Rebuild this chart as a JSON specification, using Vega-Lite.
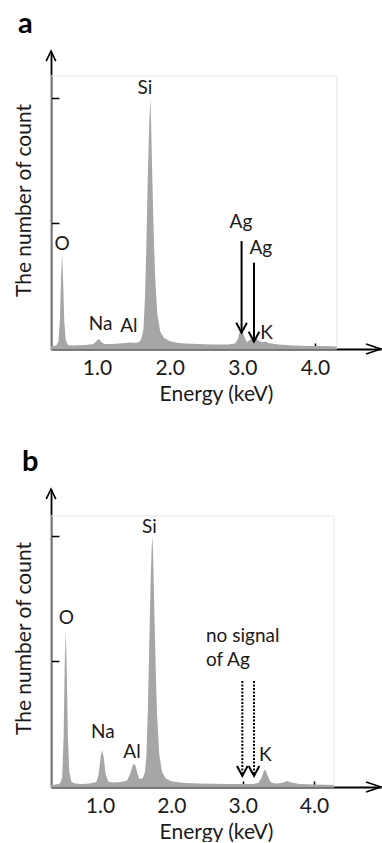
{
  "$schema": "https://vega.github.io/schema/vega-lite/v6.json",
  "padding": {"left": 13, "top": 9, "right": 0, "bottom": 0},
  "background": "white",
  "bounds": "flush",
  "spacing": 140,
  "config": {
    "view": {"stroke": null},
    "font": "Lato",
    "axis": {"domainColor": "#000", "domainWidth": 1.8, "tickColor": "#000", "tickWidth": 1.5, "labelFont": "Lato", "titleFont": "Lato", "labelColor": "#1a1a1a", "titleColor": "#1a1a1a", "grid": false, "titleFontWeight": "normal", "labelFontSize": 21, "titleFontSize": 21},
    "title": {"font": "Lato", "fontSize": 29, "fontWeight": "bold", "anchor": "start", "frame": "group", "color": "#000", "baseline": "alphabetic"}
  },
  "datasets": {
    "specA": [
      {"E":0.367,"c":10},{"E":0.40,"c":12},{"E":0.44,"c":14},{"E":0.47,"c":30},{"E":0.49,"c":120},{"E":0.505,"c":280},{"E":0.52,"c":382},{"E":0.535,"c":260},{"E":0.55,"c":110},{"E":0.57,"c":35},{"E":0.60,"c":16},{"E":0.65,"c":14},{"E":0.75,"c":15},{"E":0.85,"c":16},{"E":0.95,"c":20},{"E":1.00,"c":34},{"E":1.03,"c":40},{"E":1.06,"c":28},{"E":1.10,"c":20},{"E":1.20,"c":20},{"E":1.30,"c":22},{"E":1.40,"c":24},{"E":1.46,"c":26},{"E":1.52,"c":24},{"E":1.58,"c":28},{"E":1.61,"c":40},{"E":1.64,"c":80},{"E":1.66,"c":200},{"E":1.68,"c":420},{"E":1.70,"c":700},{"E":1.72,"c":900},{"E":1.735,"c":1000},{"E":1.745,"c":900},{"E":1.76,"c":700},{"E":1.78,"c":470},{"E":1.80,"c":290},{"E":1.83,"c":140},{"E":1.87,"c":70},{"E":1.92,"c":45},{"E":2.00,"c":32},{"E":2.10,"c":25},{"E":2.20,"c":22},{"E":2.40,"c":20},{"E":2.60,"c":18},{"E":2.80,"c":18},{"E":2.90,"c":22},{"E":2.94,"c":40},{"E":2.97,"c":78},{"E":2.99,"c":84},{"E":3.02,"c":55},{"E":3.06,"c":28},{"E":3.10,"c":35},{"E":3.14,"c":48},{"E":3.18,"c":45},{"E":3.22,"c":34},{"E":3.28,"c":26},{"E":3.32,"c":30},{"E":3.36,"c":24},{"E":3.50,"c":18},{"E":3.70,"c":14},{"E":3.90,"c":12},{"E":4.10,"c":12},{"E":4.30,"c":10}
    ],
    "specB": [
      {"E":0.313,"c":8},{"E":0.38,"c":10},{"E":0.44,"c":14},{"E":0.47,"c":40},{"E":0.49,"c":200},{"E":0.505,"c":480},{"E":0.52,"c":625},{"E":0.535,"c":450},{"E":0.55,"c":200},{"E":0.57,"c":60},{"E":0.60,"c":20},{"E":0.65,"c":14},{"E":0.75,"c":12},{"E":0.85,"c":14},{"E":0.95,"c":20},{"E":0.98,"c":50},{"E":1.01,"c":120},{"E":1.03,"c":147},{"E":1.05,"c":120},{"E":1.08,"c":50},{"E":1.12,"c":20},{"E":1.20,"c":18},{"E":1.30,"c":20},{"E":1.38,"c":26},{"E":1.42,"c":50},{"E":1.46,"c":88},{"E":1.49,"c":92},{"E":1.52,"c":60},{"E":1.55,"c":32},{"E":1.60,"c":35},{"E":1.63,"c":60},{"E":1.65,"c":120},{"E":1.67,"c":300},{"E":1.69,"c":560},{"E":1.71,"c":820},{"E":1.725,"c":960},{"E":1.735,"c":1000},{"E":1.745,"c":920},{"E":1.76,"c":720},{"E":1.78,"c":480},{"E":1.80,"c":290},{"E":1.83,"c":130},{"E":1.87,"c":60},{"E":1.92,"c":35},{"E":2.00,"c":22},{"E":2.20,"c":16},{"E":2.40,"c":14},{"E":2.60,"c":13},{"E":2.80,"c":12},{"E":3.00,"c":12},{"E":3.15,"c":12},{"E":3.22,"c":16},{"E":3.26,"c":35},{"E":3.30,"c":66},{"E":3.32,"c":68},{"E":3.35,"c":45},{"E":3.39,"c":20},{"E":3.45,"c":14},{"E":3.55,"c":16},{"E":3.62,"c":24},{"E":3.68,"c":18},{"E":3.80,"c":12},{"E":4.00,"c":10},{"E":4.28,"c":8}
    ],
    "frameA": [{"x1":0.367,"x2":4.30,"y1":0,"y2":1088}],
    "frameB": [{"x1":0.313,"x2":4.28,"y1":0,"y2":1080}],
    "labA": [
      {"E":1.66,"c":1016,"t":"Si"},{"E":0.519,"c":394,"t":"O"},{"E":1.049,"c":76,"t":"Na"},{"E":1.438,"c":68,"t":"Al"},{"E":2.982,"c":482,"t":"Ag"},{"E":3.254,"c":380,"t":"Ag"},{"E":3.335,"c":41,"t":"K"}
    ],
    "labB": [
      {"E":1.691,"c":1012,"t":"Si"},{"E":0.527,"c":649,"t":"O"},{"E":1.039,"c":195,"t":"Na"},{"E":1.448,"c":116,"t":"Al"},{"E":3.317,"c":104,"t":"K"}
    ],
    "noteB": [
      {"E":2.486,"c":578,"t":"no signal"},{"E":2.486,"c":482,"t":"of Ag"}
    ],
    "arrA": [{"E":2.99,"top":430,"tip":65},{"E":3.161,"top":344,"tip":29}],
    "arrB": [{"E":2.995,"top":422,"tip":44},{"E":3.159,"top":422,"tip":44}],
    "axA": [{"E":4.909,"c":0,"s":"x"},{"E":0.367,"c":1187,"s":"y"}],
    "axB": [{"E":4.939,"c":0,"s":"x"},{"E":0.313,"c":1187,"s":"y"}]
  },
  "vconcat": [
    {
      "width": 330, "height": 298,
      "title": {"text": "a", "dx": -33, "offset": 9},
      "layer": [
        {"data": {"name": "frameA"}, "mark": {"type": "rect", "fillOpacity": 0, "stroke": "#e8e8e8", "strokeWidth": 1},
         "encoding": {"x": {"field": "x1", "type": "quantitative", "scale": {"domain": [0.367, 4.909], "nice": false, "zero": false},
                            "axis": {"title": "Energy (keV)", "values": [1, 2, 3, 4], "format": ".1f", "tickSize": -6, "labelPadding": 14, "titlePadding": 5}},
                      "x2": {"field": "x2"},
                      "y": {"field": "y1", "type": "quantitative", "scale": {"domain": [0, 1187], "nice": false},
                            "axis": {"title": "The number of count", "values": [500, 1000], "labels": false, "tickSize": -8, "titlePadding": 16}},
                      "y2": {"field": "y2"}}},
        {"data": {"name": "specA"}, "mark": {"type": "area", "color": "#a6a6a6"},
         "encoding": {"x": {"field": "E", "type": "quantitative"}, "y": {"field": "c", "type": "quantitative"}}},
        {"data": {"name": "labA"}, "mark": {"type": "text", "fontSize": 19, "font": "Lato", "color": "#1a1a1a", "baseline": "alphabetic", "align": "center"},
         "encoding": {"x": {"field": "E", "type": "quantitative"}, "y": {"field": "c", "type": "quantitative"}, "text": {"field": "t"}}},
        {"data": {"name": "arrA"}, "mark": {"type": "rule", "color": "#000", "strokeWidth": 2},
         "encoding": {"x": {"field": "E", "type": "quantitative"}, "y": {"field": "top", "type": "quantitative"}, "y2": {"field": "tip"}}},
        {"data": {"name": "arrA"}, "mark": {"type": "point", "shape": "M-0.53,-1L0,0L0.53,-1", "size": 400, "filled": false, "color": "#000", "strokeWidth": 2, "opacity": 1},
         "encoding": {"x": {"field": "E", "type": "quantitative"}, "y": {"field": "tip", "type": "quantitative"}}},
        {"data": {"name": "axA"}, "mark": {"type": "point", "size": 900, "filled": false, "color": "#000", "strokeWidth": 1.6, "opacity": 1},
         "encoding": {"x": {"field": "E", "type": "quantitative"}, "y": {"field": "c", "type": "quantitative"},
                      "shape": {"field": "s", "type": "nominal", "scale": {"domain": ["x", "y"], "range": ["M-1,-0.33L0,0L-1,0.33", "M-0.32,0.67L0,0L0.32,0.67"]}, "legend": null}}}
      ]
    },
    {
      "width": 330, "height": 298,
      "title": {"text": "b", "dx": -29, "offset": 9},
      "layer": [
        {"data": {"name": "frameB"}, "mark": {"type": "rect", "fillOpacity": 0, "stroke": "#e8e8e8", "strokeWidth": 1},
         "encoding": {"x": {"field": "x1", "type": "quantitative", "scale": {"domain": [0.313, 4.939], "nice": false, "zero": false},
                            "axis": {"title": "Energy (keV)", "values": [1, 2, 3, 4], "format": ".1f", "tickSize": -6, "labelPadding": 14, "titlePadding": 5}},
                      "x2": {"field": "x2"},
                      "y": {"field": "y1", "type": "quantitative", "scale": {"domain": [0, 1187], "nice": false},
                            "axis": {"title": "The number of count", "values": [500, 1000], "labels": false, "tickSize": -8, "titlePadding": 16}},
                      "y2": {"field": "y2"}}},
        {"data": {"name": "specB"}, "mark": {"type": "area", "color": "#a6a6a6"},
         "encoding": {"x": {"field": "E", "type": "quantitative"}, "y": {"field": "c", "type": "quantitative"}}},
        {"data": {"name": "labB"}, "mark": {"type": "text", "fontSize": 19, "font": "Lato", "color": "#1a1a1a", "baseline": "alphabetic", "align": "center"},
         "encoding": {"x": {"field": "E", "type": "quantitative"}, "y": {"field": "c", "type": "quantitative"}, "text": {"field": "t"}}},
        {"data": {"name": "noteB"}, "mark": {"type": "text", "fontSize": 19, "font": "Lato", "color": "#1a1a1a", "baseline": "alphabetic", "align": "left"},
         "encoding": {"x": {"field": "E", "type": "quantitative"}, "y": {"field": "c", "type": "quantitative"}, "text": {"field": "t"}}},
        {"data": {"name": "arrB"}, "mark": {"type": "rule", "color": "#000", "strokeWidth": 2, "strokeDash": [2, 1.5]},
         "encoding": {"x": {"field": "E", "type": "quantitative"}, "y": {"field": "top", "type": "quantitative"}, "y2": {"field": "tip"}}},
        {"data": {"name": "arrB"}, "mark": {"type": "point", "shape": "M-0.53,-1L0,0L0.53,-1", "size": 400, "filled": false, "color": "#000", "strokeWidth": 2, "opacity": 1},
         "encoding": {"x": {"field": "E", "type": "quantitative"}, "y": {"field": "tip", "type": "quantitative"}}},
        {"data": {"name": "axB"}, "mark": {"type": "point", "size": 900, "filled": false, "color": "#000", "strokeWidth": 1.6, "opacity": 1},
         "encoding": {"x": {"field": "E", "type": "quantitative"}, "y": {"field": "c", "type": "quantitative"},
                      "shape": {"field": "s", "type": "nominal", "scale": {"domain": ["x", "y"], "range": ["M-1,-0.33L0,0L-1,0.33", "M-0.32,0.67L0,0L0.32,0.67"]}, "legend": null}}}
      ]
    }
  ]
}
